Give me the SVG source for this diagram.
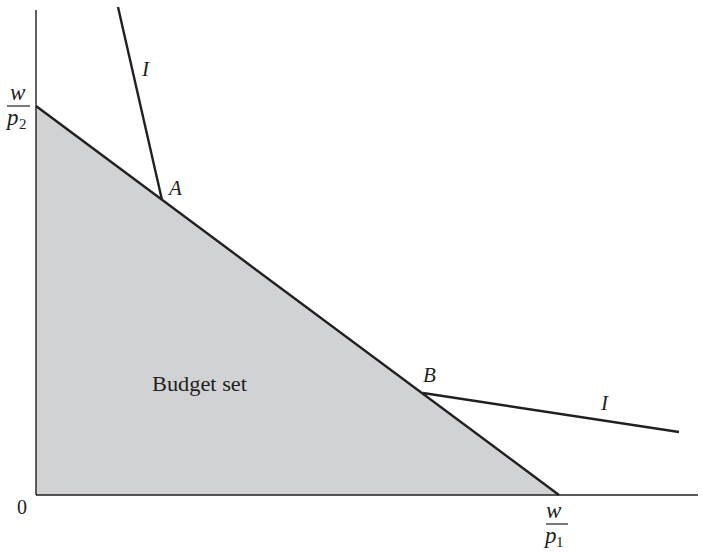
<svg xmlns="http://www.w3.org/2000/svg" width="702" height="554" viewBox="0 0 702 554">
<style>
text{font-family:"Liberation Serif","Times New Roman",serif;fill:#231f20}
.it{font-style:italic;font-size:21px}
.rm{font-size:22px}
.sub{font-size:15px}
.ax{stroke:#231f20;stroke-width:1.4;fill:none}
.ln{stroke:#231f20;stroke-width:2.4;fill:none;stroke-linejoin:round}
</style>
<g id="budget-set">
<polygon points="36,106 559,495 36,495" fill="#d1d2d4"/>
<text class="rm" x="152" y="391" textLength="95" lengthAdjust="spacingAndGlyphs">Budget set</text>
</g>
<g id="axes">
<line class="ax" x1="36" y1="10" x2="36" y2="495"/>
<line class="ax" x1="36" y1="495" x2="698" y2="495"/>
<text class="rm" x="17" y="514" style="font-size:20px">0</text>
</g>
<g id="label-w-p2">
<text class="it" x="10" y="100" style="font-size:23px">w</text>
<line x1="7" y1="106" x2="30" y2="106" stroke="#231f20" stroke-width="1.2"/>
<text class="it" x="7" y="125" style="font-size:23px">p</text>
<text class="sub" x="19" y="129">2</text>
</g>
<g id="label-w-p1">
<text class="it" x="546" y="518" style="font-size:23px">w</text>
<line x1="546" y1="524" x2="568" y2="524" stroke="#231f20" stroke-width="1.2"/>
<text class="it" x="545" y="543" style="font-size:23px">p</text>
<text class="sub" x="556" y="547">1</text>
</g>
<g id="connectors">
<line class="ln" x1="36" y1="106" x2="559" y2="495"/>
<polyline class="ln" points="118,7 162,200"/>
<polyline class="ln" points="423,393 679,432"/>
</g>
<g id="point-A"><text class="it" x="169" y="195">A</text></g>
<g id="point-B"><text class="it" x="423" y="382">B</text></g>
<g id="label-I1"><text class="it" x="142" y="76">I</text></g>
<g id="label-I2"><text class="it" x="601" y="410">I</text></g>
</svg>
